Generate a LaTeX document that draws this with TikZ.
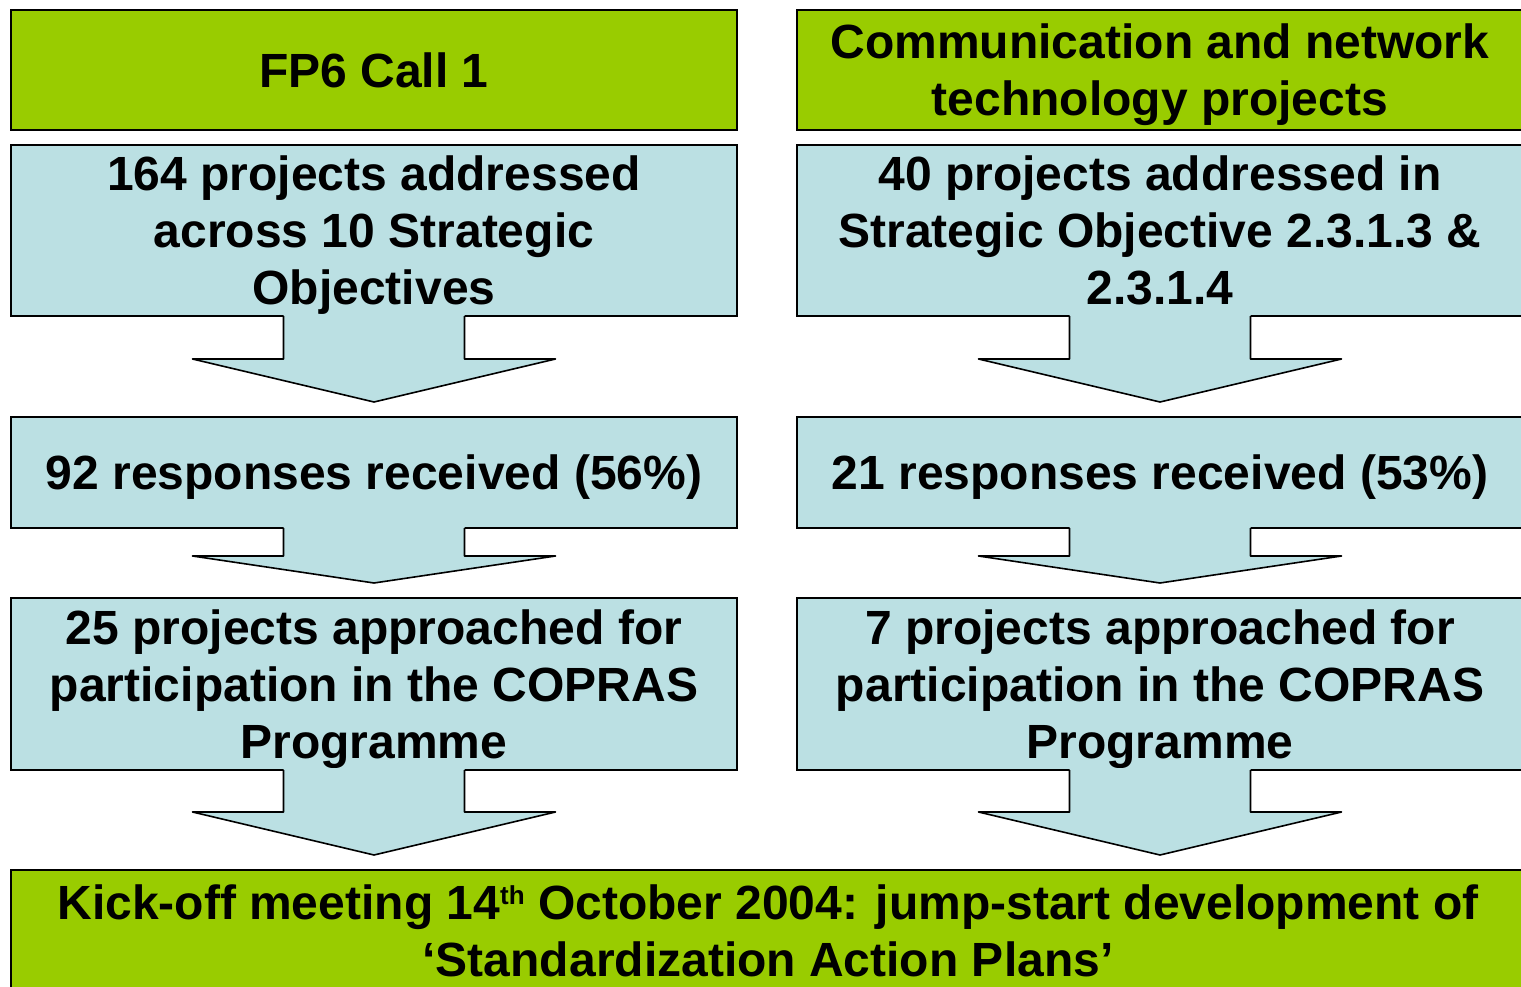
\documentclass[tikz,border=0pt]{standalone}
\usepackage{fontspec}
\setmainfont{Liberation Sans}
\usetikzlibrary{calc}
\definecolor{kgreen}{HTML}{99CC00}
\definecolor{kblue}{HTML}{BBE0E3}
\tikzset{
  box/.style={draw=black, line width=1.6pt, minimum width=726pt, inner sep=0pt, outer sep=0pt,
    align=center, text depth=0pt, font=\fontsize{48}{57}\selectfont\bfseries},
  greenbox/.style={box, fill=kgreen},
  bluebox/.style={box, fill=kblue},
  arrowfill/.style={fill=kblue},
  arrowline/.style={draw=black, line width=1.6pt, line join=round},
}
\newcommand\BlkArrow[4]{%
  \coordinate (tip) at ($(#1.south |- #2.north)+(0,-15)$);
  \fill[arrowfill] ($(#1.south)+(-90.5,-2)$) -- ($(#1.south)+(-90.5,#3)$) -- ($(#1.south)+(-181.5,#3)$)
     -- (tip) -- ($(#1.south)+(181.5,#3)$) -- ($(#1.south)+(90.5,#3)$) -- ($(#1.south)+(90.5,-2)$) -- cycle;
  \draw[arrowline] ($(#1.south)+(-90.5,0)$) -- ($(#1.south)+(-90.5,#3)$) -- ($(#1.south)+(-181.5,#3)$)
     -- (tip) -- ($(#1.south)+(181.5,#3)$) -- ($(#1.south)+(90.5,#3)$) -- ($(#1.south)+(90.5,0)$);
}
\begin{document}
\begin{tikzpicture}[x=1pt, y=-1pt]
\useasboundingbox (0,0) rectangle (1521,987);
\clip (0,0) rectangle (1521,987);
\fill[white] (0,0) rectangle (1521,987);
% left column
\node[greenbox, minimum height=120pt] (g1) at (374,70) {FP6 Call 1};
\node[bluebox, minimum height=171pt] (b1) at (374,230.5) {164 projects addressed\\across 10 Strategic\\Objectives};
\node[bluebox, minimum height=111pt] (r1) at (374,472.5) {92 responses received (56\%)};
\node[bluebox, minimum height=172pt] (p1) at (374,684) {25 projects approached for\\participation in the COPRAS\\Programme};
% right column
\node[greenbox, minimum height=120pt] (g2) at (1160,70) {Communication and network\\technology projects};
\node[bluebox, minimum height=171pt] (b2) at (1160,230.5) {40 projects addressed in\\Strategic Objective 2.3.1.3 \&\\2.3.1.4};
\node[bluebox, minimum height=111pt] (r2) at (1160,472.5) {21 responses received (53\%)};
\node[bluebox, minimum height=172pt] (p2) at (1160,684) {7 projects approached for\\participation in the COPRAS\\Programme};
% bottom
\node[greenbox, minimum width=1514pt, minimum height=122pt] (k) at (768,931)
  {Kick-off meeting 14{\fontsize{26}{26}\selectfont\raisebox{15pt}{th}} October 2004: jump-start development of\\‘Standardization Action Plans’};
% arrows
\BlkArrow{b1}{r1}{43}{42}
\BlkArrow{r1}{p1}{28}{27}
\BlkArrow{p1}{k}{42}{43}
\BlkArrow{b2}{r2}{43}{42}
\BlkArrow{r2}{p2}{28}{27}
\BlkArrow{p2}{k}{42}{43}
\end{tikzpicture}
\end{document}
